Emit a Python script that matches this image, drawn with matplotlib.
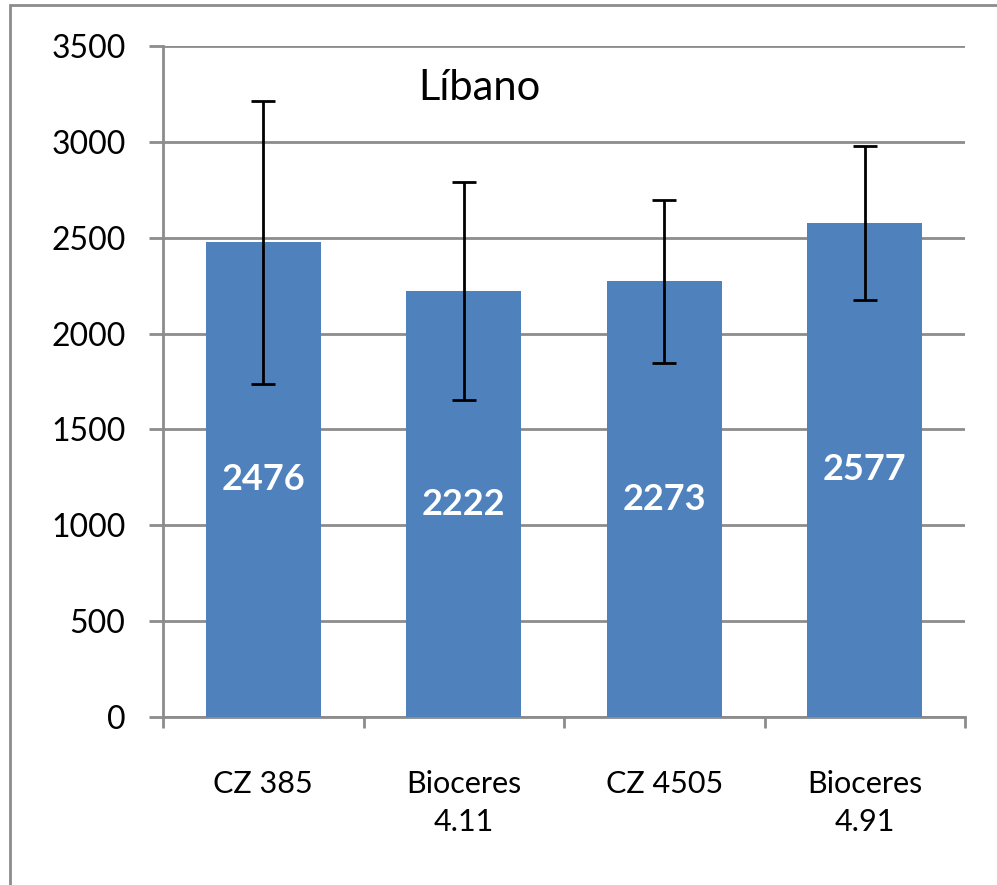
import matplotlib
matplotlib.use("Agg")
import matplotlib.pyplot as plt
from matplotlib.patches import Rectangle
import numpy as np

categories = ["CZ 385", "Bioceres\n4.11", "CZ 4505", "Bioceres\n4.91"]
values = [2476, 2222, 2273, 2577]
errors = [737, 568, 425, 403]
yticks = [0, 500, 1000, 1500, 2000, 2500, 3000, 3500]
title = "Líbano"

plt.rcParams['font.family'] = ['Lato', 'DejaVu Sans']

W, H = 997, 885
fig = plt.figure(figsize=(W/100, H/100), dpi=100)
fig.patches.append(Rectangle((10/W, -0.1), 1.2, 1 - 5/H + 0.1, transform=fig.transFigure,
                             fill=False, edgecolor='#8c8c8c', linewidth=2))
ax = fig.add_axes([163/W, 1 - 717/H, (965-163)/W, (717-46)/H])

x = np.arange(len(categories))
grid_c = '#8c8c8c'
ax.bar(x, values, width=0.575, color='#4F81BD', zorder=3)
ax.errorbar(x, values, yerr=errors, fmt='none', ecolor='black', elinewidth=2,
            capsize=8.5, capthick=2, zorder=4)
for xi, v in zip(x, values):
    ax.text(xi, v/2, str(v), ha='center', va='center', color='white',
            fontsize=26, fontweight='bold', zorder=5)

ax.set_xlim(-0.5, len(categories) - 0.5)
ax.set_ylim(0, 3500)
ax.set_yticks(yticks)
ax.set_yticklabels([str(t) for t in yticks], fontsize=23)
ax.yaxis.grid(True, color=grid_c, linewidth=2, zorder=0)
ax.set_axisbelow(True)
ax.tick_params(axis='y', length=10, width=2, color=grid_c, pad=17)

ax.set_xticks(x)
ax.set_xticklabels(categories, fontsize=22, linespacing=1.45)
ax.tick_params(axis='x', which='major', length=0, pad=38)
ax.set_xticks(np.arange(-0.5, len(categories)), minor=True)
ax.tick_params(axis='x', which='minor', length=8, width=2, color=grid_c, direction='out')

for s in ['top', 'right']:
    ax.spines[s].set_visible(False)
for s in ['left', 'bottom']:
    ax.spines[s].set_color(grid_c)
    ax.spines[s].set_linewidth(2)

ax.text(1.08, 3281, title, ha='center', va='center', fontsize=30)

fig.savefig("out.png", dpi=100)
